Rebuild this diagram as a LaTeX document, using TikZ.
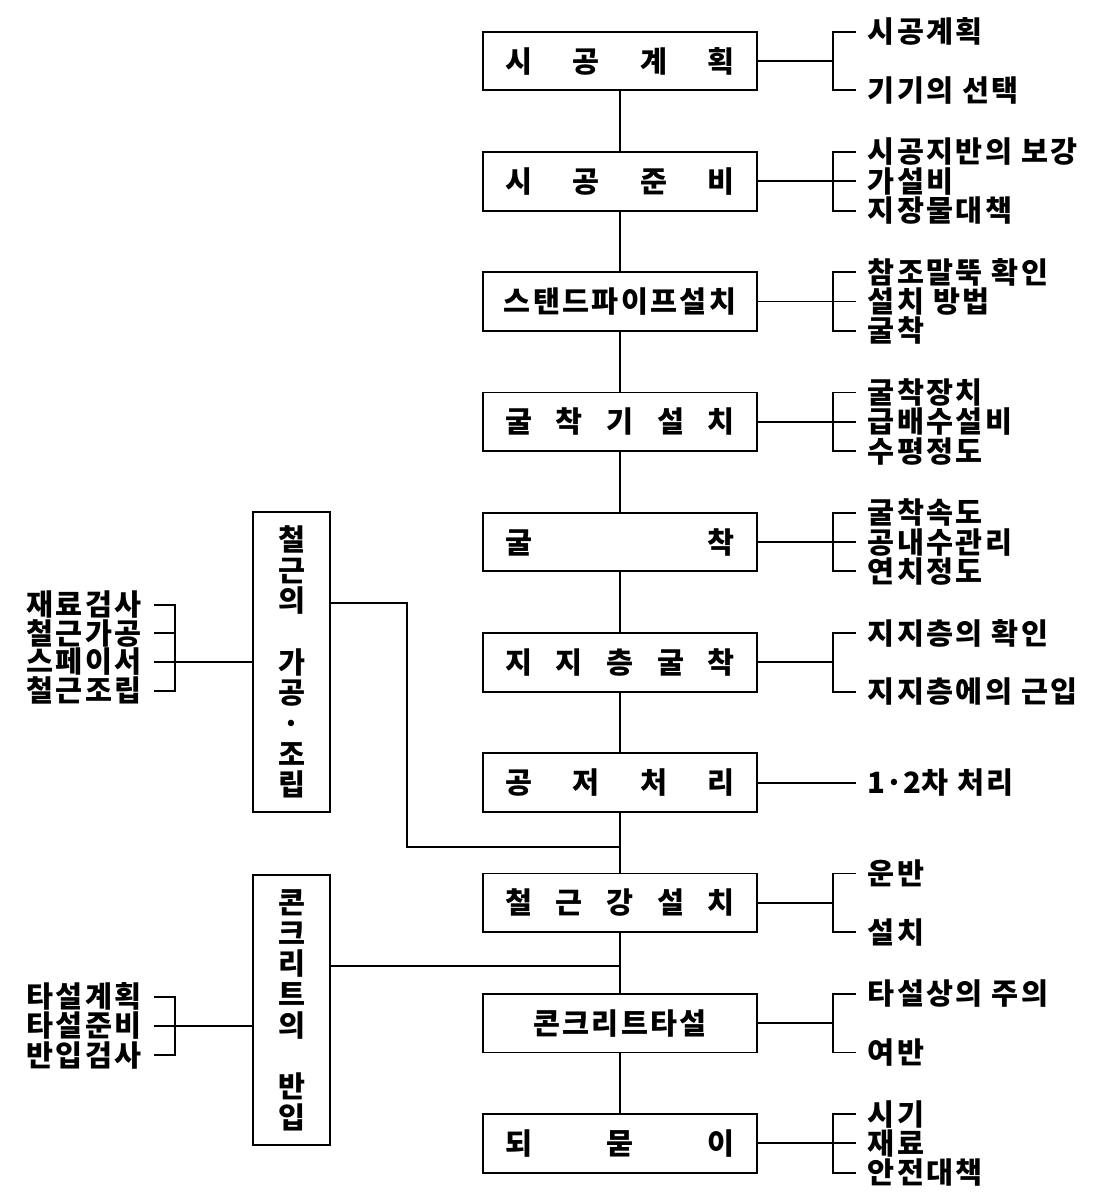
\documentclass[tikz,border=0pt]{standalone}
\usepackage{fontspec}
\setmainfont{Noto Sans CJK KR}[LetterSpace=8]
\usetikzlibrary{positioning}

\tikzset{
  flow/.style={draw, line width=1.4pt, minimum width=205pt, minimum height=44pt,
    inner sep=0pt, font=\fontsize{22}{22}\selectfont\bfseries},
  side/.style={draw, line width=1.4pt, minimum width=58pt, inner sep=0pt,
    align=center, font=\fontsize{22}{23}\selectfont\bfseries},
  item/.style={inner sep=0pt, inner xsep=9pt, font=\fontsize{22}{22}\selectfont\bfseries},
  link/.style={line width=1.4pt},
}
\newcommand{\spreadtext}[1]{\makebox[172pt]{#1}}

\begin{document}
\begin{tikzpicture}[x=0.75pt, y=-0.75pt, node distance=44.8pt]
\useasboundingbox (0,0) rectangle (1113,1197);

% main column
\node[flow] (b1) at (620,61) {\spreadtext{시\hfill 공\hfill 계\hfill 획}};
\node[flow, below=of b1] (b2) {\spreadtext{시\hfill 공\hfill 준\hfill 비}};
\node[flow, below=of b2] (b3) {스탠드파이프설치};
\node[flow, below=of b3] (b4) {\spreadtext{굴\hfill 착\hfill 기\hfill 설\hfill 치}};
\node[flow, below=of b4] (b5) {\spreadtext{굴\hfill 착}};
\node[flow, below=of b5] (b6) {\spreadtext{지\hfill 지\hfill 층\hfill 굴\hfill 착}};
\node[flow, below=of b6] (b7) {\spreadtext{공\hfill 저\hfill 처\hfill 리}};
\node[flow, below=of b7] (b8) {\spreadtext{철\hfill 근\hfill 강\hfill 설\hfill 치}};
\node[flow, below=of b8] (b9) {콘크리트타설};
\node[flow, below=of b9] (b10) {\spreadtext{되\hfill 묻\hfill 이}};

\foreach \i [count=\j from 2] in {1,...,9}
  \draw[link] (b\i.south) -- (b\j.north);

% right items
\node[item, anchor=west] (r1a) at ([xshift=73.5pt, yshift=22pt]b1.east) {시공계획};
\node[item, anchor=west] (r1b) at ([xshift=73.5pt, yshift=-22pt]b1.east) {기기의 선택};
\node[item, anchor=west] (r2a) at ([xshift=73.5pt, yshift=22pt]b2.east) {시공지반의 보강};
\node[item, anchor=west] (r2b) at ([xshift=73.5pt]b2.east) {가설비};
\node[item, anchor=west] (r2c) at ([xshift=73.5pt, yshift=-22pt]b2.east) {지장물대책};
\node[item, anchor=west] (r3a) at ([xshift=73.5pt, yshift=22pt]b3.east) {참조말뚝 확인};
\node[item, anchor=west] (r3b) at ([xshift=73.5pt]b3.east) {설치 방법};
\node[item, anchor=west] (r3c) at ([xshift=73.5pt, yshift=-22pt]b3.east) {굴착};
\node[item, anchor=west] (r4a) at ([xshift=73.5pt, yshift=22pt]b4.east) {굴착장치};
\node[item, anchor=west] (r4b) at ([xshift=73.5pt]b4.east) {급배수설비};
\node[item, anchor=west] (r4c) at ([xshift=73.5pt, yshift=-22pt]b4.east) {수평정도};
\node[item, anchor=west] (r5a) at ([xshift=73.5pt, yshift=22pt]b5.east) {굴착속도};
\node[item, anchor=west] (r5b) at ([xshift=73.5pt]b5.east) {공내수관리};
\node[item, anchor=west] (r5c) at ([xshift=73.5pt, yshift=-22pt]b5.east) {연치정도};
\node[item, anchor=west] (r6a) at ([xshift=73.5pt, yshift=22pt]b6.east) {지지층의 확인};
\node[item, anchor=west] (r6b) at ([xshift=73.5pt, yshift=-22pt]b6.east) {지지층에의 근입};
\node[item, anchor=west] (r7) at ([xshift=73.5pt]b7.east) {{\addfontfeature{LetterSpace=0}1·2}차 처리};
\node[item, anchor=west] (r8a) at ([xshift=73.5pt, yshift=22pt]b8.east) {운반};
\node[item, anchor=west] (r8b) at ([xshift=73.5pt, yshift=-22pt]b8.east) {설치};
\node[item, anchor=west] (r9a) at ([xshift=73.5pt, yshift=22pt]b9.east) {타설상의 주의};
\node[item, anchor=west] (r9b) at ([xshift=73.5pt, yshift=-22pt]b9.east) {여반};
\node[item, anchor=west] (r10a) at ([xshift=73.5pt, yshift=22pt]b10.east) {시기};
\node[item, anchor=west] (r10b) at ([xshift=73.5pt]b10.east) {재료};
\node[item, anchor=west] (r10c) at ([xshift=73.5pt, yshift=-22pt]b10.east) {안전대책};

% brackets on the right
\foreach \k in {1,6,8,9} {
  \draw[link] (b\k.east) -- ++(75,0);
  \draw[link] (r\k a.west) -- ++(-23,0) |- (r\k b.west);
}
\foreach \k in {2,3,4,5,10} {
  \draw[link] (b\k.east) -- (r\k b.west);
  \draw[link] (r\k a.west) -- ++(-23,0) |- (r\k c.west);
}
\draw[link] (b7.east) -- (r7.west);

% side boxes
\node[side, minimum height=225pt] (gb) at (291.5,662) {철\\근\\의\\[23pt]가\\공\\·\\조\\립};
\node[side, minimum height=202pt] (cb) at (291.5,1010) {콘\\크\\리\\트\\의\\[23pt]반\\입};

\node[item, anchor=east] (l1a) at ([xshift=-73.5pt, yshift=43pt]gb.west) {재료검사};
\node[item, anchor=east] (l1b) at ([xshift=-73.5pt, yshift=21.5pt]gb.west) {철근가공};
\node[item, anchor=east] (l1c) at ([xshift=-73.5pt]gb.west) {스페이서};
\node[item, anchor=east] (l1d) at ([xshift=-73.5pt, yshift=-21.5pt]gb.west) {철근조립};
\node[item, anchor=east] (l2a) at ([xshift=-73.5pt, yshift=10pt]cb.west) {타설계획};
\node[item, anchor=east] (l2b) at ([xshift=-73.5pt, yshift=-12pt]cb.west) {타설준비};
\node[item, anchor=east] (l2c) at ([xshift=-73.5pt, yshift=-34pt]cb.west) {반입검사};

\draw[link] (l1a.east) -- ++(21,0) |- (l1d.east);
\draw[link] (l1b.east) -- ++(21,0);
\draw[link] (l1c.east) -- (gb.west);
\draw[link] (l2a.east) -- ++(21,0) |- (l2c.east);
\draw[link] (l2b.east) -- (cb.west |- l2b.east);

% joins to the main column
\coordinate (j1) at (620,847);
\coordinate (j2) at (620,966);
\draw[link] ([yshift=44pt]gb.east) -- ++(76,0) |- (j1);
\draw[link] ([yshift=33pt]cb.east) -- (j2);
\end{tikzpicture}
\end{document}
